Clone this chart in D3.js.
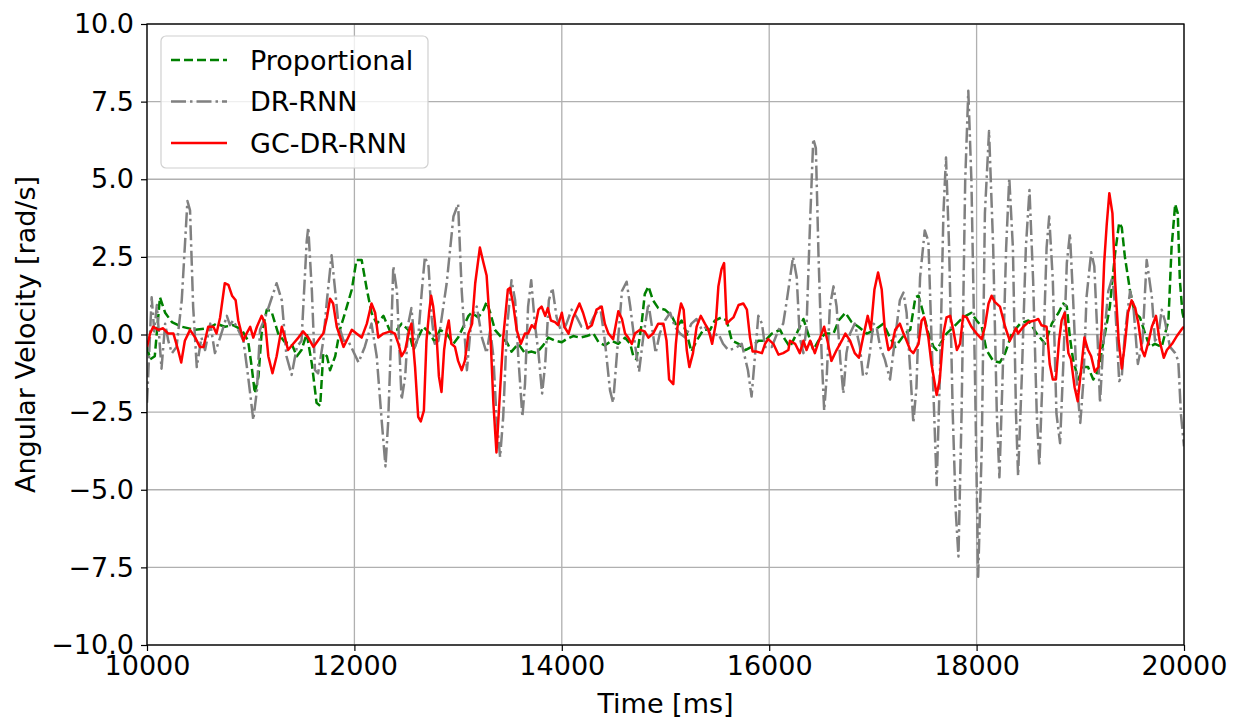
<!DOCTYPE html>
<html>
<head>
<meta charset="utf-8">
<script src="https://cdn.jsdelivr.net/npm/d3@7"></script>
<style>
  body { margin: 0; background: #fff; }
  svg { font-family: "DejaVu Sans", sans-serif; }
</style>
</head>
<body>
<div class="chart"></div>
<script>
// ---- data ----
var xTicks = [10000, 12000, 14000, 16000, 18000, 20000];
var yTicks = [-10, -7.5, -5, -2.5, 0, 2.5, 5, 7.5, 10];
var seriesNames = ["Proportional", "DR-RNN", "GC-DR-RNN"];

// [time ms, angular velocity rad/s]
var propData = [
  [10000,-0.4],[10030,-0.8],[10075,-0.7],[10125,1.2],[10175,0.7],[10240,0.4],[10335,0.25],[10465,0.15],
  [10590,0.2],[10670,0.35],[10750,0.25],[10830,0.3],[10915,0.15],[10975,-0.2],[11010,-1.05],[11040,-1.9],
  [11075,-1.35],[11105,0.03],[11155,0.8],[11200,0.75],[11265,0.03],[11330,-0.25],[11395,-0.3],[11445,-0.7],
  [11490,-0.5],[11540,0.03],[11590,-0.95],[11635,-2.2],[11670,-2.3],[11700,-0.6],[11735,-0.7],[11765,-1.15],
  [11815,-0.7],[11860,0.15],[11910,0.7],[11975,1.45],[12020,2.4],[12070,2.4],[12120,1.45],[12165,0.7],
  [12215,0.35],[12280,0.6],[12345,0.1],[12410,0.15],[12455,0.35],[12520,0.15],[12570,-0.5],[12615,-0.1],
  [12665,0.25],[12730,0.03],[12775,-0.25],[12825,0.15],[12890,0.03],[12955,-0.3],[13000,-0.1],[13065,0.35],
  [13100,0.6],[13130,0.7],[13195,0.55],[13245,0.8],[13275,1.05],[13310,0.7],[13355,0.15],[13420,-0.1],
  [13470,-0.25],[13515,-0.55],[13580,-0.3],[13645,-0.6],[13710,-0.55],[13755,-0.6],[13820,-0.35],[13870,-0.1],
  [13935,-0.2],[14000,-0.25],[14045,-0.15],[14110,-0.05],[14175,-0.1],[14240,-0.05],[14305,0.03],[14355,-0.25],
  [14415,-0.35],[14480,-0.2],[14545,-0.3],[14610,-0.1],[14660,-0.3],[14690,-0.7],[14720,-0.8],[14770,0.35],
  [14800,1.3],[14835,1.55],[14880,1.1],[14930,0.85],[14995,0.8],[15060,0.6],[15110,0.25],[15155,0.45],
  [15205,0.03],[15250,-0.55],[15300,-0.2],[15365,0.15],[15430,0.15],[15475,0.45],[15540,0.55],[15590,0.45],
  [15640,-0.2],[15705,-0.3],[15770,-0.5],[15830,-0.4],[15895,-0.2],[15960,-0.2],[16025,0.03],[16105,0.15],
  [16150,-0.15],[16200,-0.4],[16265,0.03],[16330,0.5],[16375,0.03],[16425,-0.5],[16475,-0.2],[16540,0.03],
  [16620,0.03],[16670,0.45],[16735,0.7],[16795,0.4],[16860,0.25],[16940,0.03],[17020,0.15],[17100,0.35],
  [17165,-0.1],[17215,-0.4],[17260,-0.2],[17310,0.03],[17360,0.15],[17410,1.2],[17440,1.25],[17485,0.7],
  [17535,0.03],[17585,-0.4],[17615,-0.5],[17710,0.03],[17810,0.35],[17870,0.55],[17950,0.7],[18000,0.45],
  [18050,0.25],[18095,-0.5],[18160,-0.85],[18225,-0.9],[18275,-0.6],[18340,0.03],[18420,0.35],[18500,0.45],
  [18580,0.03],[18660,-0.3],[18725,0.35],[18790,0.7],[18835,1.0],[18870,0.9],[18900,-0.1],[18930,-0.8],
  [18980,-1.45],[19030,-1.05],[19075,-1.05],[19125,-1.45],[19175,-1.15],[19220,-0.3],[19285,0.9],[19335,2.6],
  [19375,3.6],[19400,3.45],[19430,2.5],[19480,1.4],[19525,0.7],[19575,0.55],[19625,0.03],[19670,-0.4],
  [19720,-0.3],[19785,-0.4],[19850,0.45],[19880,2.8],[19915,4.2],[19940,3.9],[19960,1.75],[19985,0.7],[20000,0.5]
];

var drrnnData = [
  [10000,-2.2],[10045,1.2],[10070,0.1],[10095,0.95],[10140,-1.1],[10175,0.35],[10205,-0.2],[10240,-0.6],
  [10285,-0.4],[10335,1.1],[10390,4.3],[10415,4.0],[10445,0.9],[10480,-1.05],[10525,-0.1],[10560,-0.5],
  [10610,0.35],[10655,-0.6],[10705,-0.1],[10770,0.6],[10800,0.3],[10830,0.45],[10880,0.15],[10930,-0.2],
  [10975,-1.35],[11025,-2.75],[11060,-1.8],[11090,0.15],[11140,0.55],[11250,1.65],[11300,1.1],[11345,-0.7],
  [11395,-1.3],[11445,-0.4],[11490,-0.2],[11540,3.0],[11555,3.45],[11590,1.4],[11620,-1.15],[11650,-1.25],
  [11700,-0.2],[11735,1.1],[11780,2.55],[11815,1.4],[11845,0.35],[11895,-0.2],[11940,-0.2],[12040,-0.9],
  [12100,-0.4],[12165,0.35],[12215,-0.7],[12265,-2.85],[12300,-4.25],[12325,-2.85],[12355,0.0],[12375,2.2],
  [12410,1.4],[12455,-2.1],[12490,-1.35],[12520,0.35],[12550,0.85],[12585,-0.4],[12615,-0.1],[12650,1.4],
  [12680,2.5],[12715,2.2],[12745,0.55],[12775,-0.3],[12810,-0.2],[12890,1.65],[12955,3.8],[13000,4.2],
  [13035,1.4],[13085,-1.15],[13130,0.55],[13180,0.9],[13230,-0.1],[13275,-0.6],[13310,0.15],[13340,-0.7],
  [13370,-2.65],[13405,-3.95],[13435,-2.65],[13470,0.15],[13515,1.75],[13550,1.1],[13580,-0.7],[13620,-2.65],
  [13645,-1.6],[13675,0.9],[13705,1.75],[13740,0.35],[13775,-0.6],[13810,-1.9],[13840,-0.95],[13875,1.1],
  [13910,1.5],[13950,0.55],[14000,0.03],[14045,0.35],[14095,0.8],[14145,0.55],[14190,0.25],[14255,0.2],
  [14305,0.55],[14370,0.9],[14415,-0.2],[14465,-1.8],[14495,-2.2],[14530,-0.7],[14580,1.4],[14625,1.7],
  [14660,0.9],[14705,-0.3],[14745,-1.2],[14785,-0.1],[14835,1.0],[14865,0.35],[14905,-0.6],[14945,0.03],
  [14995,0.45],[15045,0.7],[15090,0.25],[15140,0.03],[15190,-0.1],[15250,0.35],[15300,0.5],[15350,0.15],
  [15395,0.25],[15445,-0.1],[15510,0.03],[15555,-0.3],[15605,-0.5],[15670,-0.45],[15735,-0.3],[15795,-1.15],
  [15830,-2.0],[15870,-0.4],[15895,0.6],[15930,0.35],[15960,-0.4],[16025,-0.4],[16090,0.15],[16135,0.35],
  [16170,1.1],[16230,2.5],[16265,1.85],[16295,-0.1],[16330,-0.6],[16360,0.25],[16395,3.7],[16425,6.3],
  [16450,6.0],[16475,2.6],[16505,-0.6],[16530,-2.45],[16555,-1.35],[16585,0.9],[16620,1.55],[16650,0.9],
  [16685,-0.8],[16715,-1.9],[16745,-0.6],[16780,0.03],[16825,0.35],[16875,-0.4],[16905,-1.35],[16940,-1.25],
  [16970,-0.6],[17005,0.35],[17035,0.25],[17070,-0.4],[17115,-0.8],[17165,-1.45],[17215,-0.1],[17260,1.1],
  [17295,1.35],[17325,0.7],[17360,-1.15],[17390,-2.85],[17420,-1.7],[17455,1.85],[17500,3.35],[17535,3.0],
  [17565,-0.1],[17615,-4.85],[17645,-1.45],[17680,3.9],[17705,5.7],[17735,2.8],[17770,-2.55],[17800,-5.75],
  [17825,-7.15],[17855,-2.55],[17890,4.95],[17920,7.85],[17950,4.95],[17985,-1.45],[18015,-7.8],[18050,-3.6],
  [18080,3.9],[18120,6.55],[18160,2.8],[18195,-2.55],[18220,-4.6],[18250,-1.45],[18285,2.8],[18315,5.05],
  [18350,2.8],[18380,-2.55],[18400,-4.55],[18435,-1.45],[18475,2.8],[18510,4.65],[18545,1.75],[18580,-2.55],
  [18605,-4.25],[18635,-1.45],[18675,2.8],[18700,3.8],[18735,1.75],[18770,-2.55],[18805,-3.5],[18835,-1.05],
  [18870,2.3],[18900,3.25],[18930,1.2],[18965,-1.5],[19000,-2.85],[19030,-1.5],[19060,1.2],[19105,2.65],
  [19135,2.2],[19170,-0.4],[19190,-2.2],[19220,-0.4],[19270,1.4],[19310,1.85],[19340,0.7],[19375,-1.5],
  [19400,-1.35],[19430,0.03],[19480,1.4],[19510,1.0],[19555,-0.95],[19600,-0.2],[19640,2.4],[19690,1.2],
  [19720,-0.2],[19750,-0.1],[19785,0.8],[19815,0.45],[19865,-0.4],[19915,-0.6],[19945,-0.85],[19970,-2.55],
  [20000,-3.6]
];

var gcData = [
  [10000,-0.4],[10030,0.03],[10060,0.25],[10110,0.15],[10155,0.2],[10205,0.03],[10255,0.03],[10300,-0.5],
  [10330,-0.9],[10365,-0.2],[10415,0.15],[10465,-0.1],[10510,-0.4],[10545,-0.4],[10590,0.25],[10640,0.25],
  [10670,0.03],[10705,0.55],[10750,1.65],[10785,1.6],[10820,1.25],[10855,1.1],[10880,0.45],[10930,-0.2],
  [10960,0.03],[10995,0.25],[11025,-0.1],[11060,0.25],[11105,0.6],[11140,0.35],[11170,-0.7],[11210,-1.25],
  [11250,-0.7],[11300,0.25],[11330,-0.1],[11360,-0.5],[11410,-0.3],[11460,-0.1],[11505,0.1],[11555,-0.1],
  [11605,-0.4],[11670,-0.1],[11700,0.03],[11735,0.55],[11765,1.15],[11795,1.0],[11830,0.25],[11895,-0.4],
  [11925,-0.2],[11975,0.15],[12020,0.03],[12070,-0.1],[12120,0.35],[12165,1.0],[12200,0.7],[12230,-0.1],
  [12280,0.03],[12345,0.1],[12390,0.03],[12425,-0.3],[12455,-0.7],[12490,-0.5],[12530,0.15],[12550,0.35],
  [12585,-1.05],[12615,-2.65],[12640,-2.8],[12670,-2.45],[12695,-0.2],[12720,0.7],[12740,1.25],[12760,0.9],
  [12795,-0.2],[12815,-1.35],[12840,-1.85],[12865,-0.5],[12890,0.15],[12910,0.45],[12935,-0.3],[12970,-0.4],
  [13000,-0.85],[13035,-1.15],[13065,-0.85],[13100,0.03],[13135,0.35],[13165,1.65],[13210,2.8],[13245,2.3],
  [13275,1.9],[13310,0.15],[13340,-2.2],[13370,-3.8],[13405,-1.8],[13435,-0.1],[13480,1.45],[13500,1.5],
  [13530,1.0],[13565,0.15],[13605,-0.3],[13645,0.03],[13675,0.03],[13710,0.3],[13740,0.2],[13775,0.8],
  [13805,0.9],[13840,0.6],[13865,0.85],[13895,0.45],[13935,0.4],[13965,0.3],[14000,0.7],[14025,0.25],
  [14065,0.03],[14110,0.55],[14170,1.0],[14205,0.7],[14250,0.2],[14290,0.3],[14335,0.8],[14385,0.9],
  [14415,0.35],[14450,0.03],[14495,-0.15],[14545,0.75],[14580,0.5],[14610,0.03],[14640,-0.1],[14675,-0.3],
  [14705,0.03],[14755,0.15],[14800,0.1],[14835,-0.1],[14880,0.03],[14930,0.35],[14980,0.35],[15010,-0.2],
  [15035,-1.45],[15075,-1.6],[15100,-0.3],[15125,0.55],[15150,1.0],[15175,0.8],[15205,-0.5],[15230,-1.05],
  [15265,-0.6],[15300,0.25],[15340,0.6],[15380,0.35],[15415,0.15],[15450,-0.3],[15485,0.35],[15510,1.55],
  [15540,2.1],[15565,2.3],[15590,0.35],[15620,0.45],[15655,0.55],[15705,0.95],[15750,1.0],[15785,0.8],
  [15815,-0.1],[15840,-0.55],[15880,-0.55],[15930,-0.6],[15960,-0.3],[15990,-0.15],[16040,-0.3],[16090,-0.65],
  [16135,-0.6],[16185,-0.5],[16200,-0.2],[16250,-0.3],[16295,-0.6],[16330,-0.2],[16360,-0.5],[16395,-0.2],
  [16440,-0.6],[16490,-0.1],[16530,0.25],[16565,-0.25],[16600,-0.85],[16650,-0.5],[16700,-0.2],[16735,0.03],
  [16780,-0.2],[16825,-0.6],[16865,-0.75],[16905,-0.1],[16950,0.6],[16980,0.15],[17015,1.45],[17050,2.0],
  [17085,1.45],[17115,0.15],[17150,-0.5],[17180,-0.4],[17215,0.15],[17260,0.35],[17295,0.03],[17325,-0.2],
  [17360,-0.5],[17390,-0.6],[17440,-0.3],[17470,0.45],[17495,0.55],[17535,-0.1],[17565,-0.95],[17615,-1.95],
  [17645,-1.45],[17680,0.03],[17710,0.55],[17745,0.6],[17775,0.15],[17810,-0.5],[17840,-0.3],[17870,0.6],
  [17905,0.55],[17950,0.25],[18000,0.03],[18050,-0.15],[18080,0.25],[18115,1.0],[18145,1.25],[18175,1.05],
  [18225,0.9],[18275,0.25],[18320,-0.2],[18355,0.03],[18380,0.2],[18400,0.03],[18450,0.25],[18500,0.4],
  [18560,0.45],[18595,0.5],[18625,0.3],[18675,0.25],[18705,-0.95],[18735,-1.45],[18765,-1.45],[18795,-0.2],
  [18820,0.45],[18850,0.7],[18885,-0.6],[18910,-0.8],[18945,-1.7],[18975,-2.15],[19010,-1.05],[19040,-0.1],
  [19075,-0.5],[19105,-0.7],[19140,-1.2],[19175,-1.05],[19205,0.15],[19230,2.3],[19255,3.55],[19280,4.55],
  [19310,3.9],[19335,1.75],[19370,-0.2],[19400,-1.1],[19430,-0.3],[19460,0.7],[19495,1.1],[19530,0.85],
  [19560,0.35],[19595,-0.5],[19620,-0.7],[19660,-0.2],[19690,0.25],[19730,0.6],[19765,-0.2],[19805,-0.75],
  [19835,-0.5],[19885,-0.3],[19935,-0.03],[19985,0.2],[20000,0.25]
];

// ---- layout ----
var margin = {top: 24, right: 51, bottom: 76, left: 147},
  fullWidth = 1235, fullHeight = 721,
  width = fullWidth - margin.left - margin.right,
  height = fullHeight - margin.top - margin.bottom;

var svg = d3.select(".chart")
.append("svg")
  .attr("width", fullWidth)
  .attr("height", fullHeight)
.append("g")
  .attr("transform", "translate(" + margin.left + "," + margin.top + ")");

var x = d3.scaleLinear().domain([10000, 20000]).range([0, width]);
var y = d3.scaleLinear().domain([-10, 10]).range([height, 0]);

// grid
svg.append("g").selectAll("line")
  .data(xTicks).enter().append("line")
  .attr("x1", d => x(d)).attr("x2", d => x(d))
  .attr("y1", 0).attr("y2", height)
  .attr("stroke", "#b0b0b0").attr("stroke-width", 1.3);
svg.append("g").selectAll("line")
  .data(yTicks).enter().append("line")
  .attr("x1", 0).attr("x2", width)
  .attr("y1", d => y(d)).attr("y2", d => y(d))
  .attr("stroke", "#b0b0b0").attr("stroke-width", 1.3);

svg.append("clipPath").attr("id", "plotclip")
  .append("rect").attr("width", width).attr("height", height);

var line = d3.line()
  .x(d => x(d[0]))
  .y(d => y(d[1]));

var styles = [
  {data: propData, color: "green", dash: "9,4"},
  {data: drrnnData, color: "gray", dash: "15,4,2.5,4"},
  {data: gcData, color: "red", dash: null}
];

var plot = svg.append("g").attr("clip-path", "url(#plotclip)");
styles.forEach(function(s) {
  plot.append("path")
    .datum(s.data)
    .attr("fill", "none")
    .attr("stroke", s.color)
    .attr("stroke-width", 2.5)
    .attr("stroke-linejoin", "round")
    .attr("stroke-dasharray", s.dash)
    .attr("d", line);
});

// axes
var xAxis = svg.append("g")
  .attr("transform", "translate(0," + height + ")")
  .call(d3.axisBottom(x).tickValues(xTicks).tickFormat(d3.format("d")).tickSizeOuter(0).tickSize(6).tickPadding(5));
var yAxis = svg.append("g")
  .call(d3.axisLeft(y).tickValues(yTicks).tickFormat(d3.format(".1f")).tickSizeOuter(0).tickSize(6).tickPadding(7));
[xAxis, yAxis].forEach(function(a) {
  a.select(".domain").remove();
  a.selectAll("line").attr("stroke", "#000").attr("stroke-width", 1.2);
  a.selectAll("text").attr("font-size", 27).attr("font-family", "DejaVu Sans").attr("fill", "#000");
});

svg.append("rect")
  .attr("width", width).attr("height", height)
  .attr("fill", "none").attr("stroke", "#000").attr("stroke-width", 1.3);

svg.append("text")
  .attr("x", width / 2).attr("y", height + 68)
  .attr("text-anchor", "middle")
  .attr("font-size", 27)
  .text("Time [ms]");

svg.append("text")
  .attr("transform", "translate(" + (-112) + "," + (height / 2) + ") rotate(-90)")
  .attr("text-anchor", "middle")
  .attr("font-size", 27)
  .text("Angular Velocity [rad/s]");

// legend
var legend = svg.append("g").attr("transform", "translate(14,12)");
legend.append("rect")
  .attr("width", 267).attr("height", 132)
  .attr("rx", 5)
  .attr("fill", "rgba(255,255,255,0.8)")
  .attr("stroke", "#d0d0d0").attr("stroke-width", 1.2);
var rows = legend.selectAll("g.row")
  .data(styles).enter().append("g")
  .attr("transform", (d, i) => "translate(0," + (24 + i * 41.5) + ")");
rows.append("line")
  .attr("x1", 10).attr("x2", 66)
  .attr("stroke", d => d.color)
  .attr("stroke-width", 2.5)
  .attr("stroke-dasharray", d => d.dash);
rows.append("text")
  .attr("x", 89).attr("y", 0)
  .attr("dy", "0.36em")
  .attr("font-size", 27)
  .text((d, i) => seriesNames[i]);
</script>
</body>
</html>
